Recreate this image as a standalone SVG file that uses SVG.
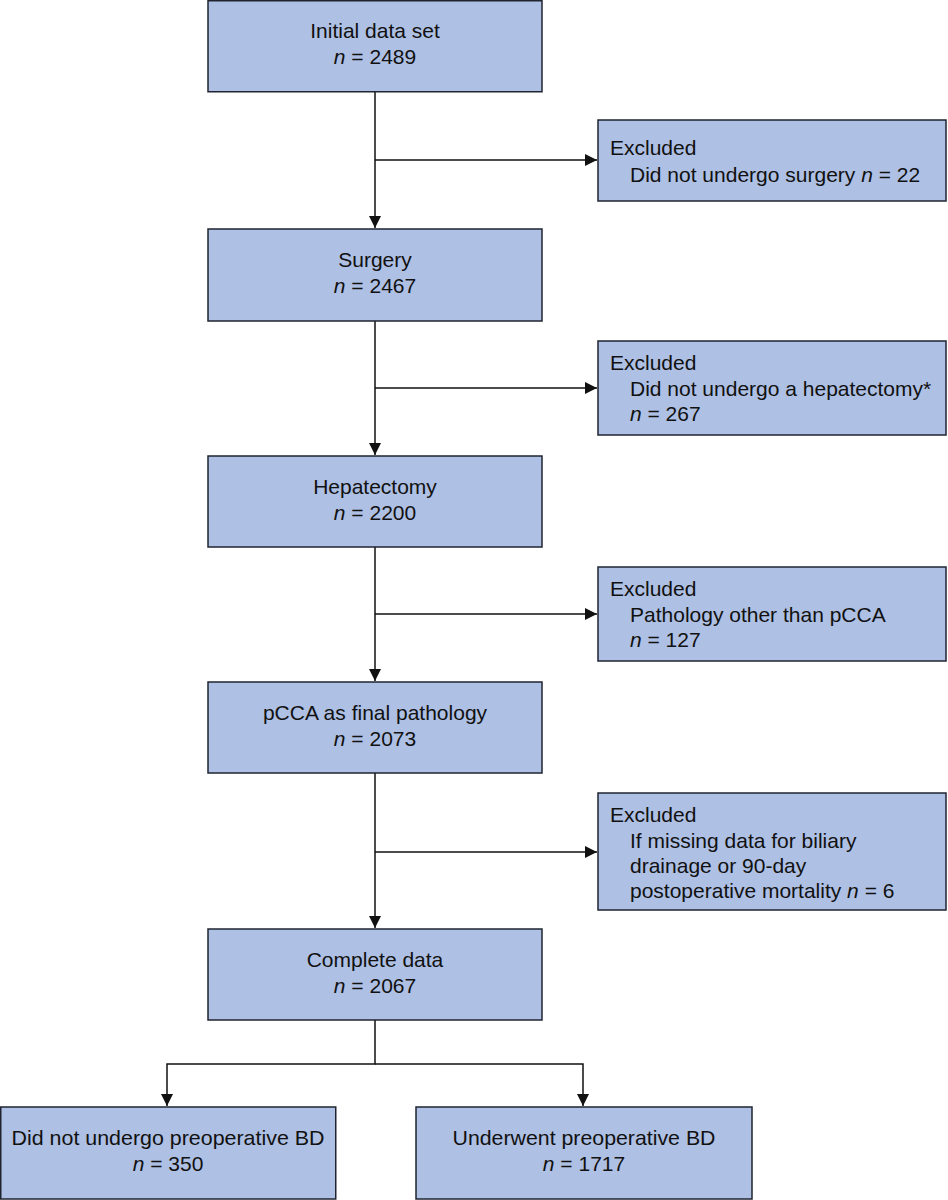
<svg xmlns="http://www.w3.org/2000/svg" width="948" height="1200" viewBox="0 0 948 1200">
<defs>
<style>
.box{fill:#aec0e4;stroke:#1f2430;stroke-width:1.5}
text{font-family:"Liberation Sans",Arial,sans-serif;font-size:21px;fill:#111}
.c{text-anchor:middle}
.ln{fill:none;stroke:#111;stroke-width:1.5}
</style>
<marker id="ah" viewBox="0 0 12 12" refX="12" refY="6" markerWidth="12" markerHeight="12" markerUnits="userSpaceOnUse" orient="auto">
<path d="M0,0 L12,6 L0,12 z" fill="#111"/>
</marker>
</defs>
<g id="connectors">
<line class="ln" x1="375" y1="92" x2="375" y2="228" marker-end="url(#ah)"/>
<line class="ln" x1="375" y1="160" x2="597" y2="160" marker-end="url(#ah)"/>
<line class="ln" x1="375" y1="321" x2="375" y2="455" marker-end="url(#ah)"/>
<line class="ln" x1="375" y1="388" x2="597" y2="388" marker-end="url(#ah)"/>
<line class="ln" x1="375" y1="547" x2="375" y2="681" marker-end="url(#ah)"/>
<line class="ln" x1="375" y1="614" x2="597" y2="614" marker-end="url(#ah)"/>
<line class="ln" x1="375" y1="773" x2="375" y2="928" marker-end="url(#ah)"/>
<line class="ln" x1="375" y1="852" x2="597" y2="852" marker-end="url(#ah)"/>
<polyline class="ln" points="375,1020 375,1064 167,1064 167,1106" marker-end="url(#ah)"/>
<polyline class="ln" points="375,1064 583,1064 583,1106" marker-end="url(#ah)"/>
</g>
<g id="n1"><rect class="box" x="208" y="0.75" width="334" height="91"/>
<text class="c" x="375" y="38">Initial data set</text>
<text class="c" x="375" y="64"><tspan font-style="italic">n</tspan> = 2489</text></g>
<g id="n2"><rect class="box" x="208" y="229" width="334" height="92"/>
<text class="c" x="375" y="267">Surgery</text>
<text class="c" x="375" y="293"><tspan font-style="italic">n</tspan> = 2467</text></g>
<g id="n3"><rect class="box" x="208" y="456" width="334" height="91"/>
<text class="c" x="375" y="494">Hepatectomy</text>
<text class="c" x="375" y="520"><tspan font-style="italic">n</tspan> = 2200</text></g>
<g id="n4"><rect class="box" x="208" y="682" width="334" height="91"/>
<text class="c" x="375" y="720">pCCA as final pathology</text>
<text class="c" x="375" y="746"><tspan font-style="italic">n</tspan> = 2073</text></g>
<g id="n5"><rect class="box" x="208" y="929" width="334" height="91"/>
<text class="c" x="375" y="967">Complete data</text>
<text class="c" x="375" y="993"><tspan font-style="italic">n</tspan> = 2067</text></g>
<g id="e1"><rect class="box" x="598" y="120" width="348" height="81"/>
<text x="610" y="155">Excluded</text>
<text x="630" y="182">Did not undergo surgery <tspan font-style="italic">n</tspan> = 22</text></g>
<g id="e2"><rect class="box" x="598" y="341" width="348" height="94"/>
<text x="610" y="370">Excluded</text>
<text x="630" y="396">Did not undergo a hepatectomy*</text>
<text x="630" y="421"><tspan font-style="italic">n</tspan> = 267</text></g>
<g id="e3"><rect class="box" x="598" y="567" width="348" height="94"/>
<text x="610" y="596">Excluded</text>
<text x="630" y="622">Pathology other than pCCA</text>
<text x="630" y="647"><tspan font-style="italic">n</tspan> = 127</text></g>
<g id="e4"><rect class="box" x="598" y="793" width="348" height="117"/>
<text x="610" y="822">Excluded</text>
<text x="630" y="848">If missing data for biliary</text>
<text x="630" y="873">drainage or 90-day</text>
<text x="630" y="898">postoperative mortality <tspan font-style="italic">n</tspan> = 6</text></g>
<g id="b1"><rect class="box" x="0.75" y="1107" width="335" height="92"/>
<text class="c" x="168" y="1145" textLength="313" lengthAdjust="spacingAndGlyphs">Did not undergo preoperative BD</text>
<text class="c" x="168" y="1171"><tspan font-style="italic">n</tspan> = 350</text></g>
<g id="b2"><rect class="box" x="416" y="1107" width="336" height="92"/>
<text class="c" x="584" y="1145" textLength="263" lengthAdjust="spacingAndGlyphs">Underwent preoperative BD</text>
<text class="c" x="584" y="1171"><tspan font-style="italic">n</tspan> = 1717</text></g>
</svg>
